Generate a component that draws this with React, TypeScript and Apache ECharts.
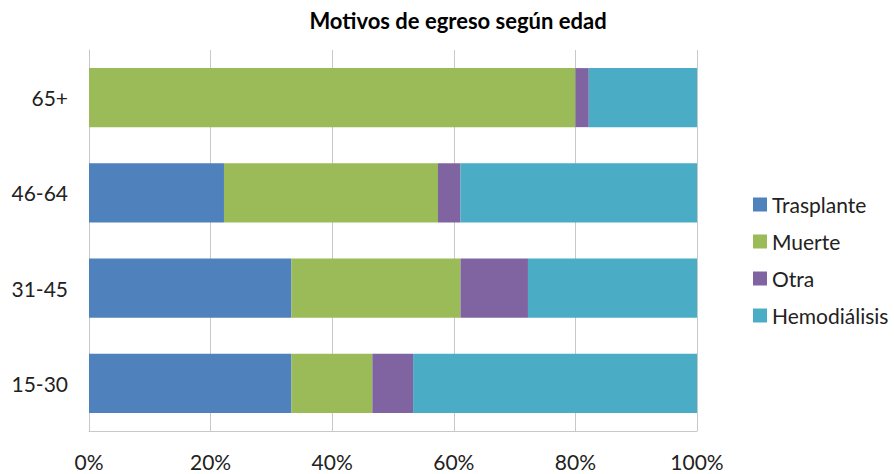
import React, { useEffect, useRef } from "react";
import * as echarts from "echarts";

const categories = ["15-30", "31-45", "46-64", "65+"];
const trasplante = [33.3, 33.3, 22.2, 0];
const muerte = [13.3, 27.8, 35.2, 80.0];
const otra = [6.7, 11.1, 3.7, 2.2];
const hemodialisis = [46.7, 27.8, 38.9, 17.8];
const seriesNames = ["Trasplante", "Muerte", "Otra", "Hemodiálisis"];
const colors = ["#4F81BD", "#9BBB59", "#8064A2", "#4BACC6"];
const FONT = "Lato, 'Open Sans', sans-serif";

export default function App() {
  const ref = useRef<HTMLDivElement>(null);
  useEffect(() => {
    if (!ref.current) return;
    const chart = echarts.init(ref.current, undefined, { renderer: "svg" });
    const data = [trasplante, muerte, otra, hemodialisis];
    chart.setOption({
      animation: false,
      title: {
        text: "Motivos de egreso según edad",
        left: 453,
        textAlign: "center",
        top: 3,
        textStyle: { fontFamily: FONT, fontSize: 22, fontWeight: "bold", color: "#000", lineHeight: 24 },
      },
      legend: {
        orient: "vertical",
        left: 748,
        top: 189,
        itemWidth: 14,
        itemHeight: 14,
        itemGap: 16,
        icon: "rect",
        textStyle: { fontFamily: FONT, fontSize: 21, color: "#222", lineHeight: 21 },
        data: seriesNames,
      },
      grid: { left: 89, right: 197, top: 50, bottom: 43, containLabel: false },
      xAxis: {
        type: "value",
        min: 0,
        max: 100,
        interval: 20,
        axisLabel: {
          formatter: (v: number) => v + "%",
          fontFamily: FONT,
          fontSize: 21,
          color: "#222",
          margin: 20,
        },
        axisLine: { show: true, lineStyle: { color: "#C8C8C8" } },
        axisTick: { show: false },
        splitLine: { show: true, lineStyle: { color: "#C8C8C8" } },
      },
      yAxis: {
        type: "category",
        data: categories,
        axisLabel: { fontFamily: FONT, fontSize: 21, color: "#222", margin: 21 },
        axisLine: { show: true, lineStyle: { color: "#C8C8C8" } },
        axisTick: { show: false },
      },
      series: seriesNames.map((name, i) => ({
        name,
        type: "bar",
        stack: "total",
        data: data[i],
        barCategoryGap: "38%",
        itemStyle: { color: colors[i] },
      })),
    });
    return () => chart.dispose();
  }, []);
  return <div ref={ref} style={{ width: 894, height: 474, position: "absolute", left: 0, top: 0 }} />;
}
